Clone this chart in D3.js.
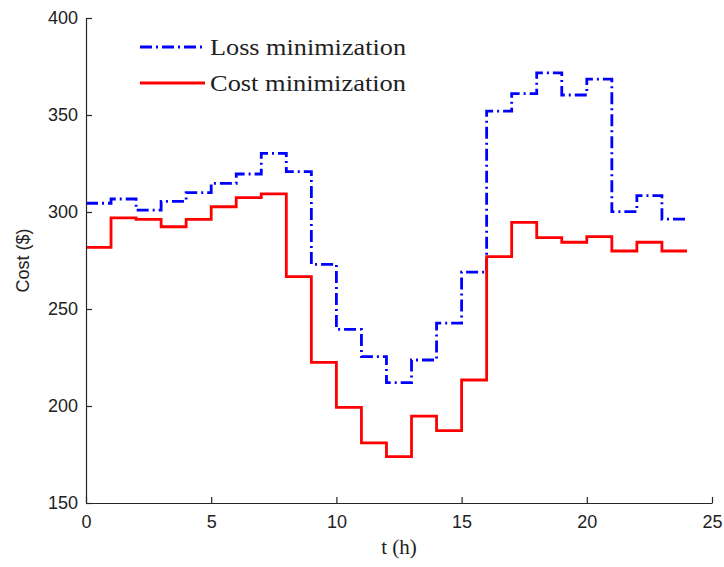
<!DOCTYPE html>
<html>
<head>
<meta charset="utf-8">
<script src="https://cdn.jsdelivr.net/npm/d3@7"></script>
<style>
  body { margin: 0; background: #fff; }
  svg { display: block; }
</style>
</head>
<body>
<svg id="chart" width="724" height="567"></svg>
<script>
// hourly cost, one value per hour slot [t, t+1)
var hours = d3.range(0, 24);
var lossMin = [304.5, 306.7, 301, 305.5, 310, 314.8, 319.6, 330.2, 320.8, 273, 239.5, 225.5, 212,
               223.7, 242.7, 269, 352, 361, 371.7, 360.3, 368.5, 300.2, 308.4, 296.3];
var costMin = [281.8, 297, 296.2, 292.4, 296.2, 302.7, 307.4, 309.3, 266.7, 222.5, 199.3, 181,
               173.9, 194.8, 187.3, 213.4, 277, 294.7, 286.8, 284.4, 287.3, 279.9, 284.4, 279.9];
var xTicks = [0, 5, 10, 15, 20, 25];
var yTicks = [150, 200, 250, 300, 350, 400];
var seriesNames = ["Loss minimization", "Cost minimization"];

var margin = {top: 18, right: 12, bottom: 64, left: 86};
var svg = d3.select("#chart");
var width = +svg.attr("width") - margin.left - margin.right;
var height = +svg.attr("height") - margin.top - margin.bottom;

var x = d3.scaleLinear().domain([0, 25]).range([0, width]);
var y = d3.scaleLinear().domain([150, 400]).range([height, 0]);

var g = svg.append("g").attr("transform", "translate(" + margin.left + "," + margin.top + ")");

// step line, last slot closed at t = 24
function steps(vals) {
  var pts = hours.map(function(h, i) { return [h, vals[i]]; });
  pts.push([24, vals[vals.length - 1]]);
  return pts;
}

var line = d3.line()
  .x(function(d) { return x(d[0]); })
  .y(function(d) { return y(d[1]); })
  .curve(d3.curveStepAfter);

var series = [
  {name: seriesNames[0], vals: lossMin, color: "#0000ff", dash: "12,4,2,4"},
  {name: seriesNames[1], vals: costMin, color: "#ff0000", dash: null}
];

series.forEach(function(s) {
  g.append("path")
    .attr("d", line(steps(s.vals)))
    .attr("fill", "none")
    .attr("stroke", s.color)
    .attr("stroke-width", 2.8)
    .attr("stroke-dasharray", s.dash);
});

// axes, ticks pointing inward
var xAxis = g.append("g")
  .attr("transform", "translate(0," + height + ")")
  .call(d3.axisBottom(x).tickValues(xTicks).tickSize(-6).tickSizeOuter(0).tickPadding(12));
var yAxis = g.append("g")
  .call(d3.axisLeft(y).tickValues(yTicks).tickSize(-6).tickSizeOuter(0).tickPadding(10));

[xAxis, yAxis].forEach(function(a) {
  a.select(".domain").attr("stroke", "#262626").attr("stroke-width", 1.2);
  a.selectAll(".tick line").attr("stroke", "#262626").attr("stroke-width", 1.2);
  a.selectAll(".tick text")
    .attr("fill", "#222")
    .style("font-family", "'Liberation Sans', Arial, sans-serif")
    .style("font-size", "18px");
});
yAxis.selectAll(".tick text").attr("x", -8);

// axis titles
svg.append("text")
  .attr("x", margin.left + width / 2)
  .attr("y", 554)
  .attr("text-anchor", "middle")
  .attr("fill", "#222")
  .style("font-family", "'Liberation Serif', 'Times New Roman', serif")
  .style("font-size", "21px")
  .text("t (h)");

svg.append("text")
  .attr("transform", "translate(29," + (margin.top + height / 2) + ") rotate(-90)")
  .attr("text-anchor", "middle")
  .attr("fill", "#222")
  .style("font-family", "'Liberation Sans', Arial, sans-serif")
  .style("font-size", "18px")
  .text("Cost ($)");

// legend
var legend = svg.append("g").attr("transform", "translate(140,47)");
series.forEach(function(s, i) {
  var row = legend.append("g").attr("transform", "translate(0," + (i * 36) + ")");
  row.append("line")
    .attr("x1", 0).attr("x2", 65)
    .attr("stroke", s.color)
    .attr("stroke-width", 2.8)
    .attr("stroke-dasharray", s.dash);
  row.append("text")
    .attr("x", 70).attr("y", 8)
    .attr("fill", "#222")
    .attr("textLength", 196)
    .attr("lengthAdjust", "spacingAndGlyphs")
    .style("font-family", "'Liberation Serif', 'Times New Roman', serif")
    .style("font-size", "24px")
    .text(s.name);
});
</script>
</body>
</html>
